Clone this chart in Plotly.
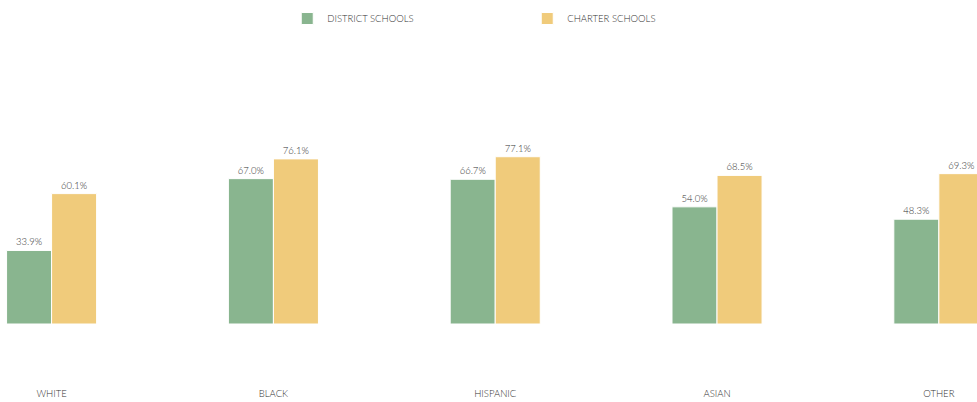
import plotly.graph_objects as go

categories = ["WHITE", "BLACK", "HISPANIC", "ASIAN", "OTHER"]
district = [33.9, 67.0, 66.7, 54.0, 48.3]
charter = [60.1, 76.1, 77.1, 68.5, 69.3]
series_names = ["DISTRICT SCHOOLS", "CHARTER SCHOOLS"]
colors = ["#89b58f", "#f0cb7b"]

xpos = list(range(len(categories)))
FONT = "Lato"
TXT = "#333333"

fig = go.Figure()
for name, vals, col in zip(series_names, [district, charter], colors):
    fig.add_trace(go.Bar(
        x=xpos, y=vals, name=name,
        marker=dict(color=col, line=dict(color="white", width=1)),
        text=[f"{v:.1f}%" for v in vals],
        textposition="outside",
        textfont=dict(family=FONT, size=9.5, color=TXT, weight=300),
        cliponaxis=False,
    ))

fig.update_layout(
    width=977, height=402,
    margin=dict(l=0, r=0, t=40, b=78),
    barmode="group", bargap=0.594, bargroupgap=0,
    plot_bgcolor="white", paper_bgcolor="white",
    font=dict(family=FONT, size=9.5, color=TXT, weight=300),
    legend=dict(orientation="h", x=0.294, xanchor="left", y=0.99, yanchor="top",
                yref="container",
                entrywidth=195, entrywidthmode="pixels",
                font=dict(family=FONT, size=9.5, color=TXT, weight=300)),
    xaxis=dict(tickmode="array", tickvals=xpos, ticktext=categories,
               range=[-0.2326, 4.172], showgrid=False, zeroline=False, showline=False,
               ticks="", ticklabelstandoff=62,
               tickfont=dict(family=FONT, size=9.5, color=TXT, weight=300)),
    yaxis=dict(range=[0, 130.9], visible=False, showgrid=False, zeroline=False),
    showlegend=True,
)

fig.write_html("out.html", config={"displayModeBar": False},
               post_script="document.body.style.margin='0';document.body.style.overflow='hidden';")
